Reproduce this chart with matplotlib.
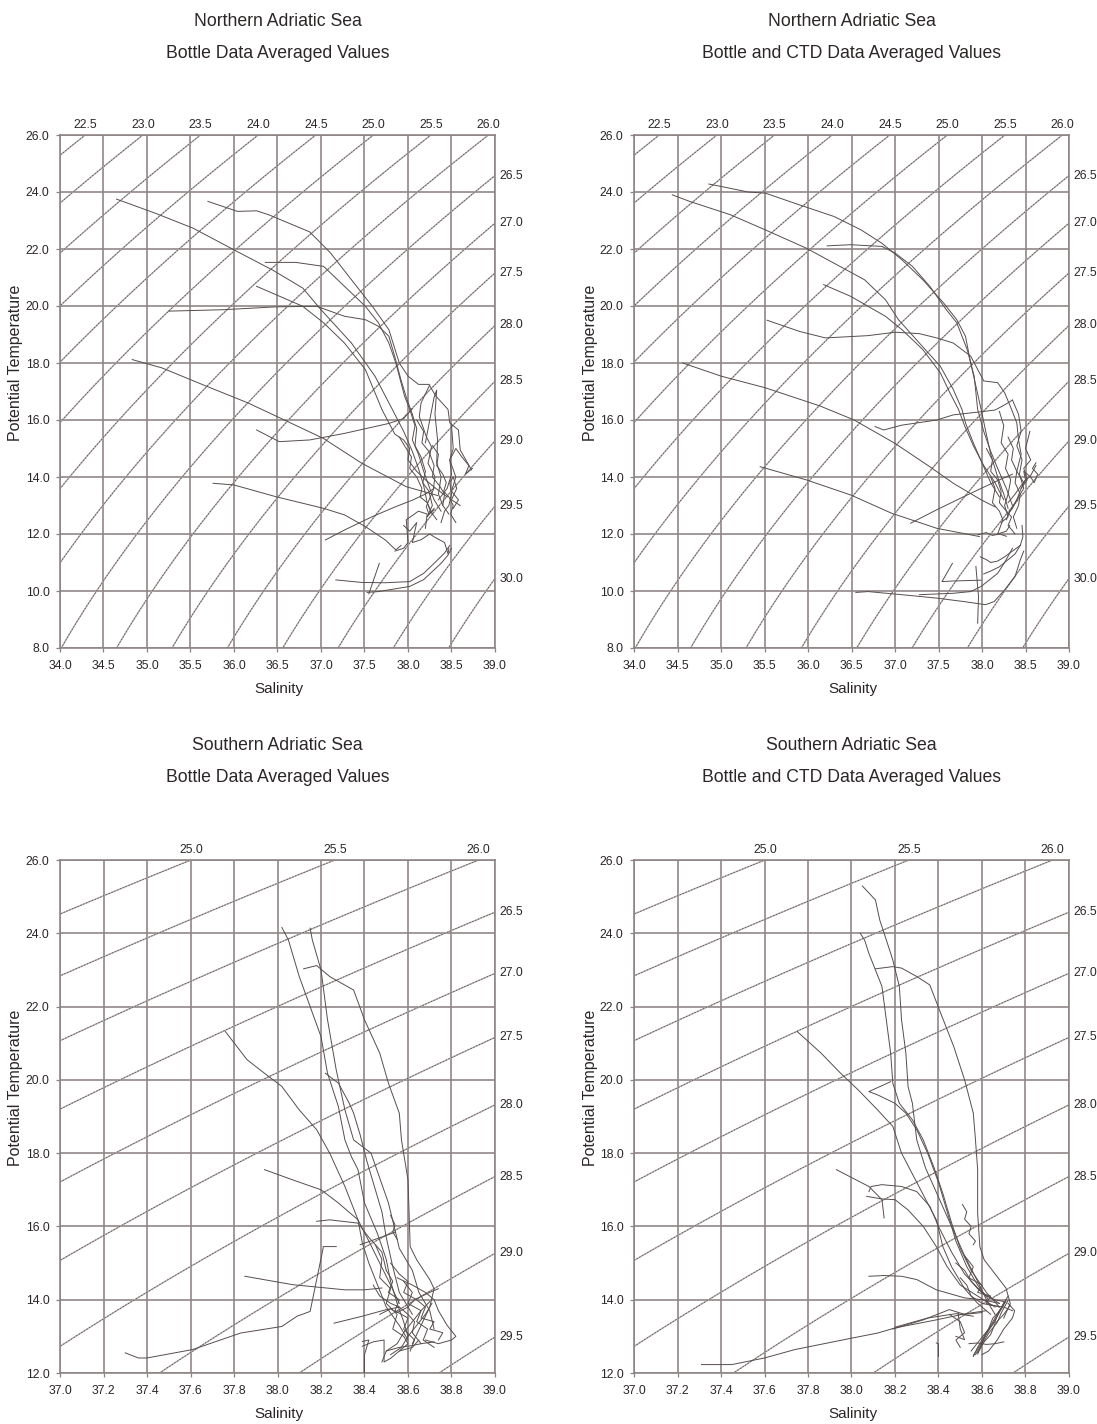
import numpy as np
import matplotlib
matplotlib.use("Agg")
import matplotlib.pyplot as plt

plt.rcParams['font.family'] = ['Liberation Sans', 'DejaVu Sans']
NARROW = ['Liberation Sans Narrow', 'Liberation Sans', 'DejaVu Sans']

TXT = '#2c2626'
GRID = '#8c8282'
LINE = '#574d4d'

# ---------------- titles ----------------
REGION_N = "Northern Adriatic Sea"
REGION_S = "Southern Adriatic Sea"
SUB_BOTTLE = "Bottle Data Averaged Values"
SUB_CTD = "Bottle and CTD Data Averaged Values"

# ---------------- axes ticks ----------------
N_SAL_TICKS = [34.0, 34.5, 35.0, 35.5, 36.0, 36.5, 37.0, 37.5, 38.0, 38.5, 39.0]
N_TEMP_TICKS = [8.0, 10.0, 12.0, 14.0, 16.0, 18.0, 20.0, 22.0, 24.0, 26.0]
S_SAL_TICKS = [37.0, 37.2, 37.4, 37.6, 37.8, 38.0, 38.2, 38.4, 38.6, 38.8, 39.0]
S_TEMP_TICKS = [12.0, 14.0, 16.0, 18.0, 20.0, 22.0, 24.0, 26.0]
N_SIGMA_LEVELS = [22.5, 23.0, 23.5, 24.0, 24.5, 25.0, 25.5, 26.0, 26.5, 27.0, 27.5, 28.0, 28.5, 29.0, 29.5, 30.0]
S_SIGMA_LEVELS = [25.0, 25.5, 26.0, 26.5, 27.0, 27.5, 28.0, 28.5, 29.0, 29.5]

# ---------------- Northern Adriatic, bottle data ----------------
NB_S = [
    [34.65, 35.10, 35.53, 36.00, 36.45, 36.79, 37.00, 37.35, 37.62, 37.82, 37.95, 38.05, 38.12, 38.18, 38.22, 38.28],
    [35.70, 36.04, 36.26, 36.40, 36.87, 37.11, 37.35, 37.59, 37.78, 37.90, 38.00, 38.12, 38.24, 38.32, 38.46, 38.48, 38.58, 38.60, 38.73],
    [36.36, 36.71, 37.03, 37.27, 37.51, 37.66, 37.78, 37.86, 37.96, 38.02, 38.08, 38.05, 38.12, 38.18, 38.25, 38.30, 38.38],
    [36.26, 36.79, 37.03, 37.27, 37.51, 37.62, 37.70, 37.78, 37.85, 37.95, 38.02, 38.00, 38.10, 38.20, 38.32, 38.45],
    [35.25, 35.88, 36.48, 36.95, 37.27, 37.51, 37.66, 37.78, 37.85, 37.92, 37.98, 38.05],
    [34.83, 35.17, 35.68, 36.16, 36.60, 37.03, 37.47, 37.98, 38.34],
    [36.26, 36.52, 36.87, 37.27, 37.62, 37.78, 37.95, 38.05],
    [35.76, 36.00, 36.48, 37.03, 37.27, 37.51, 37.74, 37.86, 37.92],
    [37.05, 37.27, 37.59, 37.86, 38.06, 38.20, 38.30],
    [37.17, 37.47, 37.74, 38.02, 38.18, 38.30, 38.42, 38.48],
    [37.53, 37.66, 37.86, 38.02, 38.18, 38.38, 38.46, 38.50],
    [37.55, 37.67],
    [38.25, 38.15, 38.13, 38.21, 38.27, 38.23, 38.31, 38.29, 38.21, 38.24, 38.30],
    [38.20, 38.30, 38.33, 38.31, 38.34, 38.33, 38.38, 38.35, 38.40],
    [38.05, 38.10, 38.08, 38.15, 38.20, 38.17, 38.24, 38.28, 38.22, 38.30],
    [38.35, 38.45, 38.50, 38.48, 38.55, 38.62, 38.70, 38.66, 38.74],
    [37.95, 38.02, 38.10, 38.05, 38.15, 38.25, 38.30, 38.42, 38.46, 38.47],
    [37.85, 37.95, 38.00, 37.98, 38.12, 38.22, 38.20],
    [38.38, 38.42, 38.47, 38.50, 38.48, 38.52, 38.56, 38.50, 38.60],
    [38.50, 38.52, 38.48, 38.55, 38.50, 38.58, 38.52],
    [37.90, 37.98, 38.04, 38.02, 38.10, 38.16, 38.14, 38.22, 38.26, 38.33],
    [38.10, 38.18, 38.16, 38.24, 38.30, 38.28, 38.36, 38.42, 38.40, 38.47],
    [38.28, 38.35, 38.33, 38.40, 38.44, 38.41, 38.47, 38.52, 38.49, 38.55],
]
NB_T = [
    [23.75, 23.25, 22.73, 21.97, 21.25, 20.63, 19.87, 18.70, 17.54, 16.37, 15.60, 14.90, 14.30, 13.70, 13.10, 12.70],
    [23.67, 23.32, 23.34, 23.20, 22.60, 21.86, 20.92, 19.99, 19.17, 18.00, 17.54, 17.25, 17.25, 16.84, 16.37, 15.90, 15.65, 14.95, 14.25],
    [21.53, 21.53, 21.39, 20.69, 19.99, 19.41, 18.70, 18.00, 16.84, 16.37, 15.80, 15.30, 14.80, 14.20, 13.60, 13.20, 12.80],
    [20.69, 19.99, 19.41, 18.70, 17.77, 16.96, 16.37, 15.90, 15.50, 15.30, 15.00, 14.60, 14.20, 13.90, 13.60, 13.30],
    [19.82, 19.87, 19.97, 19.99, 19.64, 19.52, 19.29, 18.94, 18.20, 17.40, 16.80, 16.20],
    [18.12, 17.83, 17.19, 16.60, 15.97, 15.35, 14.48, 13.66, 13.35],
    [15.65, 15.24, 15.30, 15.53, 15.77, 15.88, 16.05, 16.40],
    [13.78, 13.72, 13.31, 12.90, 12.67, 12.26, 11.79, 11.44, 11.60],
    [11.79, 12.14, 12.61, 12.96, 13.20, 13.40, 13.60],
    [10.39, 10.30, 10.29, 10.33, 10.62, 10.97, 11.33, 11.60],
    [9.95, 9.98, 10.08, 10.16, 10.40, 10.97, 11.26, 11.50],
    [9.90, 10.97],
    [17.23, 16.60, 16.12, 15.42, 15.06, 14.48, 14.01, 13.54, 12.96, 12.70, 12.85],
    [15.20, 16.80, 17.05, 16.20, 15.30, 14.50, 14.00, 13.40, 13.00],
    [16.20, 15.70, 15.10, 14.70, 14.20, 13.80, 13.50, 13.00, 12.60, 12.90],
    [13.20, 13.60, 14.10, 14.60, 15.00, 14.70, 14.40, 14.10, 14.30],
    [12.30, 12.10, 12.40, 11.70, 11.80, 12.00, 11.90, 11.70, 11.30, 11.50],
    [11.40, 11.50, 11.70, 12.50, 12.80, 12.70, 12.20],
    [12.40, 12.80, 13.00, 13.40, 13.80, 14.00, 13.60, 13.20, 13.00],
    [15.80, 15.00, 14.60, 14.00, 13.50, 13.20, 12.90],
    [15.40, 15.00, 14.70, 14.30, 14.00, 13.60, 13.30, 13.10, 12.80, 12.50],
    [16.00, 15.60, 15.20, 14.90, 14.40, 14.00, 13.70, 13.40, 13.00, 12.70],
    [15.10, 14.80, 14.40, 14.10, 13.80, 13.50, 13.30, 13.00, 12.70, 12.40],
]

# ---------------- Northern Adriatic, bottle + CTD ----------------
NC_S = [
    [34.86, 35.04, 35.31, 35.51, 35.90, 36.30, 36.61, 36.85, 37.08, 37.32, 37.56, 37.71, 37.81, 37.87, 37.93, 37.99, 38.05, 38.10, 38.18, 38.25, 38.30],
    [34.44, 34.64, 35.11, 35.51, 35.98, 36.30, 36.65, 36.89, 37.04, 37.28, 37.52, 37.67, 37.77, 37.81, 37.90, 38.00, 38.10, 38.20],
    [36.22, 36.49, 36.85, 37.00, 37.20, 37.40, 37.59, 37.71, 37.83, 37.91, 37.95, 38.02, 38.10, 38.18, 38.28, 38.35],
    [36.18, 36.49, 36.89, 37.08, 37.32, 37.52, 37.63, 37.73, 37.80, 37.90, 38.02, 38.15, 38.25],
    [35.53, 35.90, 36.20, 36.69, 37.00, 37.28, 37.48, 37.67, 37.87, 38.02, 38.18, 38.26, 38.34, 38.40, 38.42, 38.45, 38.40, 38.48],
    [34.56, 35.00, 35.51, 36.14, 36.53, 37.00, 37.40, 37.67, 37.99, 38.15],
    [36.77, 36.87, 37.08, 37.48, 37.67, 37.99, 38.15, 38.26, 38.35],
    [35.45, 35.51, 35.98, 36.49, 36.96, 37.48, 37.87, 37.97],
    [37.18, 37.48, 37.79, 37.99, 38.20, 38.35],
    [36.55, 36.69, 37.08, 37.48, 37.79, 38.04, 38.14, 38.26, 38.38, 38.44, 38.48],
    [37.28, 37.67, 37.87, 37.99, 38.18, 38.26, 38.35],
    [37.66, 37.54, 37.66, 37.99],
    [37.93, 37.96, 37.95],
    [38.35, 38.42, 38.45, 38.40, 38.46, 38.43, 38.48, 38.40, 38.35, 38.30],
    [38.20, 38.25, 38.22, 38.30, 38.27, 38.33, 38.30, 38.26, 38.30, 38.22],
    [38.55, 38.50, 38.56, 38.48, 38.52, 38.45, 38.40, 38.32, 38.28],
    [38.62, 38.55, 38.50, 38.45, 38.38, 38.30],
    [38.10, 38.15, 38.12, 38.20, 38.24, 38.18, 38.28, 38.32],
    [37.98, 38.05, 38.10, 38.18, 38.26, 38.35, 38.44, 38.47, 38.46],
    [37.95, 38.05, 38.12, 38.20, 38.28],
    [38.02, 38.10, 38.20, 38.30, 38.38, 38.44],
    [38.05, 38.12, 38.10, 38.18, 38.22, 38.20, 38.28, 38.34, 38.30, 38.38],
    [38.30, 38.36, 38.34, 38.40, 38.38, 38.44, 38.42, 38.36, 38.40],
    [38.45, 38.50, 38.48, 38.56, 38.60, 38.64, 38.58, 38.62],
]
NC_T = [
    [24.28, 24.17, 24.00, 23.96, 23.55, 23.14, 22.67, 22.20, 21.62, 20.92, 20.10, 19.52, 18.94, 18.00, 17.19, 16.37, 15.50, 14.80, 14.00, 13.40, 12.90],
    [23.90, 23.67, 23.20, 22.67, 22.03, 21.50, 20.92, 20.22, 19.52, 18.70, 17.89, 17.07, 16.37, 15.90, 15.20, 14.50, 13.80, 13.30],
    [22.11, 22.15, 22.09, 21.86, 21.39, 20.69, 19.87, 19.41, 18.47, 17.54, 16.37, 15.60, 14.90, 14.30, 13.60, 13.00],
    [20.75, 20.34, 19.64, 19.17, 18.47, 17.66, 16.96, 16.37, 15.80, 15.10, 14.40, 13.80, 13.20],
    [19.50, 19.11, 18.88, 18.96, 19.08, 19.03, 18.88, 18.70, 18.24, 17.37, 17.31, 16.96, 16.37, 15.90, 15.30, 14.80, 14.20, 13.80],
    [18.00, 17.54, 17.13, 16.49, 16.00, 15.18, 14.36, 13.78, 13.20, 12.95],
    [15.77, 15.65, 15.82, 16.00, 16.18, 16.29, 16.35, 16.53, 16.70],
    [14.36, 14.31, 13.90, 13.37, 12.73, 12.20, 11.97, 11.91],
    [12.38, 12.85, 13.31, 13.60, 13.90, 14.10],
    [9.95, 9.98, 9.87, 9.75, 9.63, 9.52, 9.63, 10.04, 10.51, 11.09, 11.40],
    [9.87, 9.92, 9.98, 10.16, 10.62, 11.00, 11.50],
    [10.97, 10.33, 10.35, 10.38],
    [10.86, 9.80, 8.87],
    [16.70, 16.20, 15.60, 15.10, 14.60, 14.10, 13.60, 13.20, 12.90, 12.70],
    [16.30, 15.80, 15.20, 14.80, 14.30, 13.90, 13.40, 13.00, 12.60, 12.40],
    [15.60, 15.00, 14.60, 14.30, 13.90, 13.60, 13.20, 12.80, 12.50],
    [14.40, 14.00, 13.90, 13.70, 13.40, 13.10],
    [14.00, 13.60, 13.10, 12.80, 12.50, 12.00, 12.10, 12.30],
    [11.20, 11.10, 11.00, 11.05, 11.20, 11.40, 11.60, 11.90, 12.30],
    [11.97, 12.05, 11.95, 12.00, 11.92],
    [10.60, 10.70, 10.85, 11.10, 11.30, 11.60],
    [15.00, 14.60, 14.20, 13.90, 13.50, 13.10, 12.80, 12.60, 12.30, 12.00],
    [15.40, 15.00, 14.60, 14.20, 13.80, 13.40, 13.00, 12.60, 12.20],
    [13.60, 13.90, 14.20, 14.00, 13.80, 14.10, 14.30, 14.50],
]

# ---------------- Southern Adriatic, bottle data ----------------
SB_S = [
    [38.02, 38.05, 38.10, 38.15, 38.20, 38.23, 38.28, 38.31, 38.34, 38.37, 38.40, 38.46, 38.50, 38.52, 38.55, 38.58, 38.60],
    [38.15, 38.16, 38.20, 38.23, 38.27, 38.31, 38.35, 38.43, 38.51, 38.54, 38.56, 38.62, 38.65, 38.70, 38.72],
    [38.12, 38.18, 38.24, 38.35, 38.40, 38.47, 38.51, 38.56, 38.57, 38.60, 38.61, 38.64, 38.70, 38.72, 38.70, 38.66, 38.62],
    [37.76, 37.86, 37.94, 38.02, 38.10, 38.18, 38.24, 38.31, 38.37, 38.39, 38.42, 38.46, 38.50, 38.56, 38.60],
    [38.22, 38.28, 38.33, 38.35, 38.38, 38.41, 38.45, 38.48, 38.50, 38.53, 38.56, 38.62],
    [37.94, 38.07, 38.20, 38.28, 38.37, 38.42, 38.47, 38.52, 38.56],
    [38.18, 38.24, 38.37, 38.42, 38.48, 38.50],
    [37.30, 37.36, 37.40, 37.61, 37.83, 38.02, 38.09, 38.15, 38.21, 38.21, 38.27],
    [37.85, 38.07, 38.31, 38.40, 38.48],
    [38.26, 38.39, 38.50, 38.56],
    [38.39, 38.42, 38.40, 38.40],
    [38.38, 38.45, 38.54],
    [38.52, 38.54, 38.53, 38.55],
    [38.45, 38.48, 38.47, 38.52, 38.50, 38.55, 38.53, 38.58, 38.60, 38.56, 38.62, 38.65],
    [38.52, 38.56, 38.60, 38.58, 38.64, 38.68, 38.66, 38.72, 38.70, 38.76, 38.74],
    [38.55, 38.62, 38.68, 38.72, 38.74, 38.78, 38.82, 38.80, 38.74, 38.68],
    [38.50, 38.55, 38.58, 38.62, 38.66, 38.70],
    [38.52, 38.57, 38.60, 38.64, 38.68, 38.71],
    [38.48, 38.50, 38.56, 38.62, 38.66, 38.72],
    [38.39, 38.44, 38.49, 38.49, 38.52, 38.56],
    [38.44, 38.47, 38.52, 38.56, 38.60, 38.63, 38.62, 38.66],
    [38.47, 38.52, 38.55, 38.60, 38.63, 38.70, 38.74],
    [38.50, 38.53, 38.51, 38.56, 38.54, 38.60, 38.58, 38.63, 38.61],
    [38.58, 38.62, 38.60, 38.66, 38.64, 38.69, 38.67, 38.72],
]
SB_T = [
    [24.16, 23.82, 22.82, 22.00, 21.18, 20.18, 19.27, 18.36, 17.90, 17.55, 16.64, 15.80, 15.10, 14.50, 13.90, 13.40, 13.00],
    [24.14, 23.82, 23.00, 21.64, 20.27, 19.18, 18.36, 18.00, 16.64, 15.91, 15.40, 14.80, 14.20, 13.70, 13.20],
    [23.03, 23.12, 22.82, 22.45, 21.64, 20.73, 19.91, 19.09, 18.36, 17.27, 15.45, 15.09, 14.55, 14.30, 13.80, 13.30, 12.80],
    [21.32, 20.55, 20.18, 19.82, 19.18, 18.64, 18.00, 17.09, 16.18, 15.55, 15.00, 14.40, 13.80, 13.30, 12.90],
    [20.18, 19.91, 19.36, 19.09, 18.50, 17.80, 17.00, 16.40, 15.70, 14.90, 14.20, 13.60],
    [17.55, 17.27, 17.00, 16.64, 16.18, 15.60, 15.00, 14.40, 13.90],
    [16.14, 16.18, 16.09, 15.70, 15.30, 14.80],
    [12.55, 12.41, 12.41, 12.64, 13.09, 13.27, 13.55, 13.68, 15.41, 15.45, 15.45],
    [14.64, 14.41, 14.27, 14.27, 14.32],
    [13.36, 13.55, 13.73, 13.80],
    [12.86, 12.90, 12.50, 12.00],
    [15.50, 15.65, 15.84],
    [16.30, 16.05, 15.85, 15.65],
    [15.50, 15.10, 14.60, 14.30, 13.90, 13.60, 13.20, 13.00, 12.80, 12.60, 12.70, 12.90],
    [15.00, 14.70, 14.50, 14.20, 14.00, 13.80, 13.50, 13.40, 13.20, 13.10, 12.90],
    [14.60, 14.40, 14.20, 14.00, 13.70, 13.30, 13.00, 12.90, 12.80, 12.90],
    [12.60, 12.80, 13.10, 13.40, 13.70, 13.95],
    [12.50, 12.70, 13.00, 13.30, 13.60, 13.90],
    [12.30, 12.60, 12.70, 12.75, 12.80, 12.85],
    [12.73, 12.85, 12.90, 12.30, 12.40, 12.60],
    [14.40, 14.10, 13.90, 13.80, 13.60, 13.40, 13.10, 12.80],
    [13.60, 13.75, 13.65, 13.80, 14.00, 14.20, 14.30],
    [14.80, 14.50, 14.20, 14.00, 13.70, 13.50, 13.20, 12.90, 12.60],
    [14.50, 14.20, 13.90, 13.70, 13.40, 13.20, 12.90, 12.70],
]

# ---------------- Southern Adriatic, bottle + CTD ----------------
SC_S = [
    [38.05, 38.11, 38.13, 38.16, 38.19, 38.22, 38.23, 38.25, 38.26, 38.28, 38.30, 38.34, 38.40, 38.46, 38.52, 38.58, 38.62, 38.66],
    [38.04, 38.06, 38.08, 38.14, 38.16, 38.18, 38.19, 38.22, 38.28, 38.33, 38.38, 38.42, 38.46, 38.50, 38.55, 38.62, 38.68],
    [38.11, 38.19, 38.23, 38.30, 38.36, 38.41, 38.47, 38.52, 38.56, 38.57, 38.58, 38.58, 38.59, 38.61, 38.68, 38.71, 38.73, 38.70],
    [37.75, 37.86, 37.95, 38.03, 38.12, 38.19, 38.23, 38.31, 38.39, 38.42, 38.46, 38.52, 38.58, 38.64],
    [38.18, 38.08, 38.12, 38.20, 38.25, 38.30, 38.35, 38.40, 38.44, 38.48, 38.53, 38.58, 38.63],
    [37.93, 38.08, 38.14, 38.15],
    [38.08, 38.09, 38.14, 38.23, 38.30, 38.36, 38.40, 38.46, 38.52, 38.60, 38.68],
    [38.07, 38.14, 38.20, 38.26, 38.33, 38.39, 38.44, 38.50, 38.58, 38.66],
    [38.08, 38.15, 38.23, 38.30, 38.39, 38.52, 38.60, 38.68],
    [37.31, 37.45, 37.60, 37.74, 38.00, 38.12, 38.20, 38.39, 38.47, 38.50, 38.55, 38.62],
    [38.19, 38.33, 38.45, 38.52, 38.60],
    [38.20, 38.35, 38.48, 38.56],
    [38.39, 38.40, 38.40],
    [38.49, 38.50, 38.52, 38.48],
    [38.51, 38.53, 38.52, 38.55, 38.54, 38.57, 38.56],
    [38.56, 38.58, 38.61, 38.64, 38.67, 38.70, 38.72],
    [38.57, 38.60, 38.62, 38.66, 38.68, 38.71],
    [38.58, 38.61, 38.64, 38.66, 38.70, 38.73],
    [38.55, 38.59, 38.63, 38.65, 38.69, 38.71],
    [38.60, 38.63, 38.67, 38.70, 38.74, 38.75, 38.72],
    [38.54, 38.58, 38.62, 38.66, 38.70],
    [38.50, 38.53, 38.55, 38.60, 38.64, 38.70, 38.74],
    [38.48, 38.52, 38.55, 38.58, 38.62, 38.66, 38.70],
    [38.45, 38.50, 38.52, 38.48, 38.50],
    [38.56, 38.59, 38.62, 38.65, 38.68, 38.70],
    [38.58, 38.60, 38.63, 38.67, 38.69, 38.72],
    [38.52, 38.56, 38.54, 38.60, 38.58, 38.64, 38.62, 38.68],
]
SC_T = [
    [25.29, 24.91, 24.36, 23.82, 23.27, 22.55, 21.64, 20.73, 19.82, 19.36, 18.36, 17.60, 16.80, 16.00, 15.20, 14.50, 14.00, 13.60],
    [24.00, 23.82, 23.45, 22.55, 21.64, 20.73, 19.91, 19.36, 18.91, 18.36, 17.60, 16.90, 16.10, 15.40, 14.80, 14.20, 13.80],
    [23.03, 23.09, 23.05, 22.82, 22.59, 21.82, 20.91, 20.00, 19.09, 18.36, 17.55, 16.36, 15.45, 15.09, 14.55, 14.32, 13.90, 13.50],
    [21.32, 20.73, 20.18, 19.73, 19.18, 18.73, 18.00, 17.09, 16.18, 15.45, 14.90, 14.30, 13.90, 13.60],
    [19.95, 19.68, 19.59, 19.36, 19.09, 18.64, 18.00, 17.20, 16.40, 15.60, 14.90, 14.40, 14.00],
    [17.55, 17.09, 16.73, 16.23],
    [16.95, 17.09, 17.14, 17.09, 16.95, 16.55, 16.00, 15.30, 14.70, 14.20, 13.90],
    [16.82, 16.75, 16.73, 16.45, 16.00, 15.45, 14.90, 14.40, 14.10, 13.80],
    [14.64, 14.66, 14.64, 14.55, 14.27, 14.05, 14.00, 13.90],
    [12.23, 12.23, 12.41, 12.64, 12.95, 13.09, 13.23, 13.45, 13.55, 13.59, 13.64, 13.70],
    [13.20, 13.45, 13.73, 13.60, 13.65],
    [13.25, 13.50, 13.62, 13.55],
    [12.82, 12.80, 12.45],
    [13.64, 13.20, 12.91, 13.00],
    [16.60, 16.40, 16.20, 16.00, 15.80, 15.60, 15.50],
    [12.45, 12.70, 13.00, 13.30, 13.60, 13.90, 14.10],
    [12.50, 12.80, 13.10, 13.40, 13.70, 13.95],
    [12.55, 12.85, 13.05, 13.35, 13.60, 13.85],
    [12.60, 12.90, 13.20, 13.50, 13.75, 14.00],
    [12.50, 12.60, 12.90, 13.20, 13.50, 13.70, 13.90],
    [12.80, 12.82, 12.78, 12.80, 12.85],
    [14.60, 14.40, 14.10, 13.90, 13.85, 13.80, 13.70],
    [15.00, 14.80, 14.50, 14.30, 14.10, 14.00, 13.95],
    [13.60, 13.40, 13.10, 12.90, 12.70],
    [12.48, 12.75, 13.05, 13.35, 13.65, 13.92],
    [12.52, 12.78, 13.08, 13.38, 13.66, 13.98],
    [15.20, 14.90, 14.60, 14.40, 14.20, 14.10, 13.90, 13.80],
]


def sigma0(S, T):
    """UNESCO EOS-80 potential density anomaly at p = 0."""
    rw = (999.842594 + 6.793952e-2 * T - 9.095290e-3 * T ** 2 + 1.001685e-4 * T ** 3
          - 1.120083e-6 * T ** 4 + 6.536332e-9 * T ** 5)
    A = 8.24493e-1 - 4.0899e-3 * T + 7.6438e-5 * T ** 2 - 8.2467e-7 * T ** 3 + 5.3875e-9 * T ** 4
    B = -5.72466e-3 + 1.0227e-4 * T - 1.6546e-6 * T ** 2
    C = 4.8314e-4
    return rw + A * S + B * S ** 1.5 + C * S ** 2 - 1000.0


FS_TICK = 8.8


def draw_panel(ax, s_list, t_list, sal_ticks, temp_ticks, levels):
    smin, smax = sal_ticks[0], sal_ticks[-1]
    tmin, tmax = temp_ticks[0], temp_ticks[-1]
    ax.set_xlim(smin, smax)
    ax.set_ylim(tmin, tmax)

    for s in sal_ticks:
        ax.axvline(s, color=GRID, lw=1.15, zorder=1)
    for t in temp_ticks:
        ax.axhline(t, color=GRID, lw=1.15, zorder=1)

    sg = np.linspace(smin - 0.2, smax + 0.2, 400)
    tg = np.linspace(tmin - 1, tmax + 1, 400)
    SS, TT = np.meshgrid(sg, tg)
    sig = sigma0(SS, TT)
    ax.contour(SS, TT, sig, levels=levels, colors='#b4acac', linewidths=1.0, zorder=2)
    ax.contour(SS, TT, sig, levels=levels, colors='#5a5050', linewidths=0.55,
               linestyles=[(0, (2.0, 2.0))], zorder=2)

    # isopycnal labels
    sf = np.linspace(smin, smax, 4000)
    tf = np.linspace(tmin, tmax, 4000)
    sig_top = sigma0(sf, tmax)
    sig_right = sigma0(smax, tf)
    for lev in levels:
        if sig_top.min() <= lev <= sig_top.max():
            sx = np.interp(lev, sig_top, sf)
            ax.annotate(f"{lev:.1f}", (sx, tmax), xytext=(0, 7), textcoords='offset points',
                        ha='center', va='center', fontsize=FS_TICK, color=TXT, family=NARROW,
                        annotation_clip=False)
        elif sig_right.min() <= lev <= sig_right.max():
            ty = np.interp(lev, sig_right[::-1], tf[::-1])
            ax.annotate(f"{lev:.1f}", (smax, ty), xytext=(3.5, 0), textcoords='offset points',
                        ha='left', va='center', fontsize=FS_TICK, color=TXT, family=NARROW,
                        annotation_clip=False)

    for s, t in zip(s_list, t_list):
        ax.plot(s, t, color=LINE, lw=0.7, zorder=3)

    ax.set_xticks(sal_ticks)
    ax.set_yticks(temp_ticks)
    ax.set_xticklabels([f"{v:.1f}" for v in sal_ticks], family=NARROW, fontsize=FS_TICK, color=TXT)
    ax.set_yticklabels([f"{v:.1f}" for v in temp_ticks], family=NARROW, fontsize=FS_TICK, color=TXT)
    ax.tick_params(length=3, width=0.9, color=GRID, pad=4.5)
    ax.tick_params(axis='x', pad=5.5)
    for sp in ax.spines.values():
        sp.set_color(GRID)
        sp.set_linewidth(1.15)


fig = plt.figure(figsize=(10.97, 14.24), dpi=100)
W, H = 1097.0, 1424.0


def add_axes(left_px, top_px, width_px=435.0, height_px=513.0):
    return fig.add_axes([left_px / W, 1 - (top_px + height_px) / H, width_px / W, height_px / H])


panels = [
    (60, 135, NB_S, NB_T, N_SAL_TICKS, N_TEMP_TICKS, N_SIGMA_LEVELS, REGION_N, SUB_BOTTLE),
    (634, 135, NC_S, NC_T, N_SAL_TICKS, N_TEMP_TICKS, N_SIGMA_LEVELS, REGION_N, SUB_CTD),
    (60, 860, SB_S, SB_T, S_SAL_TICKS, S_TEMP_TICKS, S_SIGMA_LEVELS, REGION_S, SUB_BOTTLE),
    (634, 860, SC_S, SC_T, S_SAL_TICKS, S_TEMP_TICKS, S_SIGMA_LEVELS, REGION_S, SUB_CTD),
]

for left, top, s_l, t_l, st, tt, lv, t1, t2 in panels:
    ax = add_axes(left, top)
    draw_panel(ax, s_l, t_l, st, tt, lv)
    cx = (left + 217.5) / W
    fig.text(cx, 1 - (top - 114) / H, t1, ha='center', va='center', fontsize=12.7, color=TXT)
    fig.text(cx, 1 - (top - 82) / H, t2, ha='center', va='center', fontsize=12.7, color=TXT)
    fig.text(cx + 1 / W, 1 - (top + 554) / H, "Salinity", ha='center', va='center',
             fontsize=11, color=TXT)
    fig.text((left - 44) / W, 1 - (top + 228) / H, "Potential Temperature", ha='center',
             va='center', rotation=90, fontsize=11.5, color=TXT)

fig.savefig("out.png", dpi=100, facecolor='white')
